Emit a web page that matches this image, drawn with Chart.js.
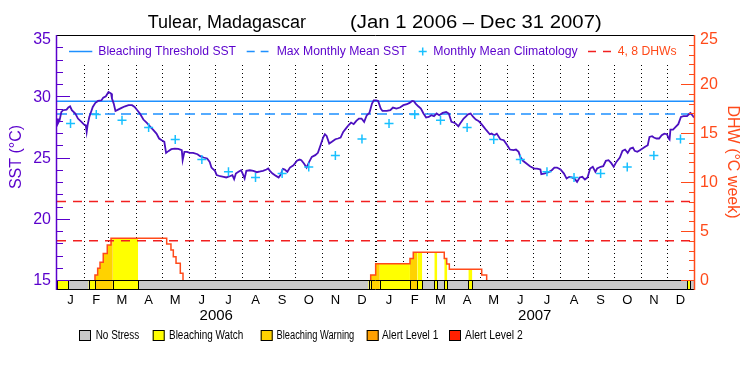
<!DOCTYPE html>
<html>
<head>
<meta charset="utf-8">
<title>Tulear, Madagascar</title>
<script src="https://cdn.jsdelivr.net/npm/chart.js@4.4.1/dist/chart.umd.min.js"></script>
<style>
  html, body { margin: 0; padding: 0; background: #fff; }
  #wrap { width: 750px; height: 375px; }
</style>
</head>
<body>
<div id="wrap"><canvas id="chart" width="750" height="375"></canvas></div>
<script>
// ---- data ----
const monthLetters = ['J', 'F', 'M', 'A', 'M', 'J', 'J', 'A', 'S', 'O', 'N', 'D'];
const monthLengths = [31, 28, 31, 30, 31, 30, 31, 31, 30, 31, 30, 31];
const yearLabels = ['2006', '2007'];

// SST, days counted from Jan 1 2006
const sstDays = [0, 1, 3, 5, 7, 11, 13, 15, 17, 21, 24, 28, 31, 33, 34, 35, 37, 39, 41, 44,
  47, 51, 53, 56, 59, 62, 63, 65, 67, 70, 74, 78, 82, 86, 89, 92, 95, 99, 103, 107,
  110, 114, 117, 120, 123, 125, 128, 131, 135, 139, 143, 144, 146, 149, 152, 156, 161, 164, 168, 172,
  175, 177, 181, 183, 187, 191, 194, 198, 201, 203, 205, 208, 211, 213, 215, 217, 221, 225, 229, 233,
  236, 240, 242, 244, 247, 251, 254, 256, 259, 261, 264, 267, 271, 275, 278, 280, 283, 286, 289, 292,
  296, 299, 302, 305, 307, 309, 312, 315, 319, 322, 325, 328, 331, 334, 337, 340, 343, 346, 349, 352,
  355, 358, 361, 363, 366, 368, 371, 373, 378, 382, 385, 389, 393, 397, 401, 404, 407, 409, 411, 414,
  417, 420, 423, 426, 429, 432, 435, 438, 442, 446, 449, 452, 456, 460, 462, 466, 469, 471, 474, 477,
  480, 483, 486, 489, 492, 496, 498, 501, 504, 508, 512, 516, 519, 523, 526, 529, 531, 534, 538, 542,
  547, 550, 554, 555, 558, 561, 564, 567, 570, 573, 577, 581, 584, 587, 590, 593, 596, 599, 602, 605,
  608, 611, 614, 617, 619, 623, 626, 629, 632, 635, 638, 641, 645, 648, 651, 654, 657, 660, 662, 665,
  668, 671, 674, 677, 679, 682, 684, 687, 690, 693, 696, 699, 701, 702, 703, 706, 709, 712, 715, 718,
  722, 725, 726, 729, 730];
const sstValues = [28.18, 27.77, 28.04, 28.72, 28.86, 28.91, 29.08, 29.18, 28.86, 28.59, 28.18, 27.91, 27.69, 27.63, 27.09, 27.63, 28.31, 28.72, 29.13, 29.46,
  29.62, 29.67, 29.89, 30.00, 30.35, 30.22, 29.81, 29.40, 28.80, 28.91, 29.05, 29.18, 29.27, 29.27, 29.13, 28.86, 28.59, 28.10, 27.82, 27.50,
  27.28, 26.95, 26.55, 26.41, 26.28, 25.38, 25.54, 25.68, 25.73, 25.70, 25.60, 24.78, 25.46, 25.46, 25.38, 25.38, 25.27, 25.11, 25.00, 24.92,
  24.64, 24.18, 23.91, 23.56, 23.47, 23.42, 23.37, 23.47, 23.56, 23.23, 23.69, 23.83, 23.96, 23.64, 23.28, 23.91, 23.96, 23.91, 23.80, 23.86,
  23.91, 24.02, 24.10, 23.91, 23.69, 23.50, 23.37, 23.56, 24.07, 24.02, 23.83, 24.18, 24.37, 24.73, 24.83, 24.78, 24.51, 24.18, 24.64, 25.05,
  25.19, 25.38, 26.00, 26.63, 26.90, 26.76, 26.14, 26.28, 26.49, 26.55, 26.63, 27.09, 27.36, 27.63, 27.85, 27.72, 27.99, 28.18, 28.18, 27.91,
  28.45, 28.64, 29.40, 29.67, 29.67, 29.62, 28.99, 28.80, 28.80, 28.86, 29.08, 28.99, 29.08, 29.27, 29.35, 29.46, 29.62, 29.59, 29.40, 29.18,
  28.99, 28.59, 28.26, 28.31, 28.45, 28.37, 28.59, 28.45, 28.64, 28.72, 28.59, 27.91, 27.82, 27.55, 27.77, 28.18, 28.37, 28.53, 28.59, 28.31,
  28.10, 27.99, 27.77, 27.50, 27.23, 26.90, 26.95, 26.82, 26.95, 26.49, 26.41, 26.00, 25.65, 25.60, 25.65, 25.46, 25.05, 24.73, 24.51, 24.29,
  24.10, 24.10, 24.02, 23.64, 23.69, 23.75, 23.83, 23.96, 24.18, 24.18, 24.02, 23.69, 23.28, 23.42, 23.37, 23.28, 23.01, 23.37, 23.42, 23.20,
  23.37, 24.10, 24.24, 23.83, 24.10, 24.24, 24.29, 24.73, 24.78, 24.56, 24.24, 24.64, 25.00, 25.54, 25.65, 25.38, 25.73, 25.81, 25.54, 25.46,
  25.60, 25.73, 25.87, 26.00, 26.68, 26.74, 26.63, 26.55, 26.55, 26.82, 26.95, 26.90, 26.55, 26.47, 27.28, 27.28, 27.50, 27.72, 28.31, 28.37,
  28.37, 28.59, 28.64, 28.37, 28.26];

const climatology = [27.77, 28.51, 28.04, 27.45, 26.47, 24.84, 23.83, 23.37, 23.69, 24.23, 25.16, 26.52];
const bleachingThreshold = 29.6;
const maxMonthlyMean = 28.55;
const dhwThresholds = [4, 8];

// degree heating weeks: each value holds from its day until the next one
const dhwDays = [43.5, 46.6, 49.3, 53.0, 57.6, 61.9, 125.7, 130.6, 133.3, 136.4, 141.3, 144.4,
  359.5, 365.2, 404.5, 408.3, 443.8, 446.6, 449.6, 486.7, 492.4];
const dhwValues = [0.5, 1.19, 1.8, 2.7, 3.57, 4.25, 3.67, 3.06, 2.38, 1.7, 0.68, 0,
  0.51, 1.65, 2.2, 2.82, 2.2, 1.63, 1.09, 0.51, 0];

// stress level periods (0 no stress .. 4 alert level 2)
const stressStart = [0, 13, 36.3, 43.5, 64, 93, 357, 359.5, 370, 404.5, 412.9, 418.6, 432.4, 435.8, 443.8, 447.3, 471.4, 476, 722.3, 725.8];
const stressLevel = [1, 0, 1, 2, 1, 0, 1, 2, 1, 2, 1, 0, 1, 0, 1, 0, 1, 0, 1, 0];
const stressNames = ['No Stress', 'Bleaching Watch', 'Bleaching Warning', 'Alert Level 1', 'Alert Level 2'];

const sstTicks = [15, 20, 25, 30, 35];
const dhwTicks = [0, 5, 10, 15, 20, 25];

// ---- styles ----
const PURPLE = '#5a00cc';
const SST_LINE = '#4c10c0';
const ORANGE = '#ff4a1a';
const BLUE = '#1e90ff';
const CYAN = '#18c0ff';
const RED = '#f22020';
const stressColors = ['#c8c8c8', '#ffff00', '#ffd200', '#ffa000', '#ff2000'];
const FONT = '"Liberation Sans", Arial, sans-serif';
const TOTAL_DAYS = 730;

const monthStarts = [];
const monthMids = [];
[0, 365].forEach((offset) => {
  let d = offset;
  monthLengths.forEach((len) => {
    monthStarts.push(d);
    monthMids.push(d + len / 2);
    d += len;
  });
});

function dhwAt(day) {
  let value = 0;
  dhwDays.forEach((d, i) => {
    if (d <= day) value = dhwValues[i];
  });
  return value;
}

function stressEnd(i) {
  return i + 1 < stressStart.length ? stressStart[i + 1] : TOTAL_DAYS;
}

// one filled step area per coloured stress period
const fillSets = [];
stressStart.forEach((start, i) => {
  if (stressLevel[i] === 0) return;
  const end = stressEnd(i);
  const pts = [{ x: start, y: dhwAt(start) }];
  dhwDays.forEach((d) => {
    if (d > start && d < end) pts.push({ x: d, y: dhwAt(d) });
  });
  pts.push({ x: end, y: dhwAt(end) });
  if (!pts.some((p) => p.y > 0)) return;
  fillSets.push({
    data: pts,
    yAxisID: 'y2',
    stepped: 'before',
    borderColor: 'rgba(0,0,0,0)',
    borderWidth: 0,
    backgroundColor: stressColors[stressLevel[i]],
    fill: { value: 0 },
    pointRadius: 0,
    order: 10
  });
});

const dhwOutline = [];
dhwDays.forEach((d, i) => {
  if (i === 0 || dhwValues[i - 1] === 0) dhwOutline.push({ x: d, y: 0 });
  dhwOutline.push({ x: d, y: dhwValues[i] });
  if (dhwValues[i] === 0 && i + 1 < dhwDays.length) dhwOutline.push({ x: d, y: NaN });
});

const sstData = sstDays.map((d, i) => ({ x: d, y: sstValues[i] }));
const climData = monthMids.map((d, i) => ({ x: d, y: climatology[i % 12] }));
const flat = (v) => [{ x: 0, y: v }, { x: TOTAL_DAYS, y: v }];

function fitText(ctx, text, x, y, width, font, color) {
  ctx.save();
  ctx.font = font;
  ctx.fillStyle = color;
  ctx.textAlign = 'left';
  ctx.textBaseline = 'middle';
  const w = ctx.measureText(text).width;
  ctx.translate(x, y);
  ctx.scale(width / w, 1);
  ctx.fillText(text, 0, 0);
  ctx.restore();
}

function line(ctx, x1, y1, x2, y2, color, width, dash) {
  ctx.save();
  ctx.strokeStyle = color;
  ctx.lineWidth = width;
  ctx.setLineDash(dash || []);
  ctx.beginPath();
  ctx.moveTo(x1, y1);
  ctx.lineTo(x2, y2);
  ctx.stroke();
  ctx.restore();
}

const decorations = {
  id: 'decorations',
  beforeDatasetsDraw(chart) {
    const { ctx, scales: { x, y, y2 } } = chart;
    const top = y.getPixelForValue(32.55);
    const bottom = y2.getPixelForValue(0);
    monthStarts.forEach((d) => {
      if (d === 0) return;
      const px = Math.round(x.getPixelForValue(d));
      if (d === 365) line(ctx, px, top, px, bottom, '#000', 2, [1, 3]);
      else line(ctx, px + 0.5, top, px + 0.5, bottom, '#000', 1, [1, 3]);
    });
  },
  afterDatasetsDraw(chart) {
    const { ctx, chartArea: area, scales: { x, y, y2 } } = chart;
    const barTop = Math.round(y2.getPixelForValue(0)) + 0.5;
    const barBottom = Math.round(area.bottom) - 0.5;

    // stress bar
    stressStart.forEach((start, i) => {
      const x1 = x.getPixelForValue(start);
      const x2 = x.getPixelForValue(stressEnd(i));
      ctx.fillStyle = stressColors[stressLevel[i]];
      ctx.fillRect(x1, barTop, x2 - x1, barBottom - barTop);
    });
    ctx.save();
    ctx.strokeStyle = '#000';
    ctx.lineWidth = 1;
    ctx.beginPath();
    stressStart.forEach((start) => {
      const px = Math.round(x.getPixelForValue(start)) + 0.5;
      ctx.moveTo(px, barTop);
      ctx.lineTo(px, barBottom);
    });
    ctx.moveTo(area.left, barTop);
    ctx.lineTo(area.right, barTop);
    ctx.moveTo(area.left, barBottom);
    ctx.lineTo(area.right, barBottom);
    ctx.stroke();
    ctx.restore();

    // frame and axes
    line(ctx, area.left, area.top + 0.5, area.right, area.top + 0.5, '#000', 1);
    line(ctx, area.left - 0.5, area.top, area.left - 0.5, area.bottom, PURPLE, 1.5);
    line(ctx, area.right + 0.5, area.top, area.right + 0.5, area.bottom, ORANGE, 1.5);
    for (let v = 15; v < 35; v++) {
      const py = Math.round(y.getPixelForValue(v)) + 0.5;
      line(ctx, area.left, py, area.left + (v % 5 === 0 ? 13 : 6), py, PURPLE, 1);
    }
    for (let v = 0; v < 25; v++) {
      const py = Math.round(y2.getPixelForValue(v)) + 0.5;
      line(ctx, area.right, py, area.right - (v % 5 === 0 ? 13 : 5), py, ORANGE, 1);
    }

    // tick labels
    ctx.save();
    ctx.font = '16px ' + FONT;
    ctx.textBaseline = 'middle';
    ctx.fillStyle = PURPLE;
    ctx.textAlign = 'right';
    sstTicks.forEach((v) => {
      ctx.fillText(String(v), area.left - 6, Math.max(y.getPixelForValue(v) + 1, area.top + 5));
    });
    ctx.fillStyle = ORANGE;
    ctx.textAlign = 'left';
    dhwTicks.forEach((v) => {
      ctx.fillText(String(v), area.right + 6, Math.max(y2.getPixelForValue(v) + 1, area.top + 5));
    });
    ctx.fillStyle = '#000';
    ctx.textAlign = 'center';
    ctx.font = '13px ' + FONT;
    monthMids.forEach((d, i) => {
      ctx.fillText(monthLetters[i % 12], x.getPixelForValue(d), area.bottom + 10);
    });
    ctx.font = '15px ' + FONT;
    yearLabels.forEach((label, i) => {
      ctx.fillText(label, x.getPixelForValue(i * 365 + 182.5), area.bottom + 26);
    });

    // axis titles
    ctx.font = '16px ' + FONT;
    ctx.fillStyle = PURPLE;
    ctx.save();
    ctx.translate(17, 157);
    ctx.rotate(-Math.PI / 2);
    ctx.fillText('SST (°C)', 0, 0);
    ctx.restore();
    ctx.fillStyle = ORANGE;
    ctx.save();
    ctx.translate(732, 162);
    ctx.rotate(Math.PI / 2);
    ctx.fillText('DHW (°C week)', 0, 0);
    ctx.restore();
    ctx.restore();

    // title
    fitText(ctx, 'Tulear, Madagascar', 147.7, 23, 158.3, '18px ' + FONT, '#000');
    fitText(ctx, '(Jan 1 2006 \u2013 Dec 31 2007)', 350, 23, 251.7, '18px ' + FONT, '#000');

    // top legend
    const ly = 51.5;
    line(ctx, 69, ly, 92.3, ly, BLUE, 1.5);
    fitText(ctx, 'Bleaching Threshold SST', 98.3, ly, 137.7, '12px ' + FONT, PURPLE);
    line(ctx, 246.7, ly, 268.5, ly, BLUE, 1.5, [8, 6]);
    fitText(ctx, 'Max Monthly Mean SST', 276.7, ly, 130, '12px ' + FONT, PURPLE);
    line(ctx, 418.7, ly, 426.7, ly, CYAN, 1.5);
    line(ctx, 422.7, ly - 4, 422.7, ly + 4, CYAN, 1.5);
    fitText(ctx, 'Monthly Mean Climatology', 433.3, ly, 144.4, '12px ' + FONT, PURPLE);
    line(ctx, 588, ly, 611, ly, RED, 1.5, [8, 7]);
    fitText(ctx, '4, 8 DHWs', 617.7, ly, 59, '12px ' + FONT, ORANGE);

    // stress legend
    const boxX = [79, 152.7, 260.7, 366.7, 449];
    const textX = [95.7, 169, 276.5, 382, 465];
    const textW = [43.6, 74.3, 77.8, 56.3, 57.7];
    stressNames.forEach((name, i) => {
      ctx.fillStyle = stressColors[i];
      ctx.fillRect(boxX[i], 330, 12, 11);
      ctx.strokeStyle = '#000';
      ctx.lineWidth = 1;
      ctx.strokeRect(boxX[i] + 0.5, 330.5, 11, 10);
      fitText(ctx, name, textX[i], 335.5, textW[i], '12px ' + FONT, '#000');
    });
  }
};

new Chart(document.getElementById('chart'), {
  type: 'line',
  data: {
    datasets: [
      ...fillSets,
      {
        data: dhwOutline,
        yAxisID: 'y2',
        stepped: 'before',
        borderColor: ORANGE,
        borderWidth: 1.5,
        pointRadius: 0,
        fill: false,
        spanGaps: false,
        order: 5
      },
      ...dhwThresholds.map((v) => ({
        data: flat(v),
        yAxisID: 'y2',
        borderColor: RED,
        borderWidth: 1.5,
        borderDash: [9, 7],
        pointRadius: 0,
        order: 4
      })),
      {
        data: flat(maxMonthlyMean),
        yAxisID: 'y',
        borderColor: BLUE,
        borderWidth: 1.5,
        borderDash: [10, 6],
        pointRadius: 0,
        order: 3
      },
      {
        data: flat(bleachingThreshold),
        yAxisID: 'y',
        borderColor: BLUE,
        borderWidth: 1.5,
        pointRadius: 0,
        order: 3
      },
      {
        data: sstData,
        yAxisID: 'y',
        borderColor: SST_LINE,
        borderWidth: 1.8,
        pointRadius: 0,
        tension: 0,
        order: 1
      },
      {
        data: climData,
        yAxisID: 'y',
        showLine: false,
        pointStyle: 'cross',
        pointRadius: 4.5,
        pointBorderWidth: 1.5,
        pointBorderColor: CYAN,
        pointBackgroundColor: CYAN,
        order: 0
      }
    ]
  },
  options: {
    responsive: false,
    animation: false,
    devicePixelRatio: 1,
    events: [],
    layout: { padding: { left: 57, right: 56, top: 35, bottom: 85 } },
    plugins: { legend: { display: false }, tooltip: { enabled: false }, title: { display: false } },
    scales: {
      x: { type: 'linear', min: 0, max: TOTAL_DAYS, display: false },
      y: { type: 'linear', min: 14.184, max: 35, display: false },
      y2: { type: 'linear', position: 'right', min: -1.02, max: 25, display: false }
    }
  },
  plugins: [decorations]
});
</script>
</body>
</html>
